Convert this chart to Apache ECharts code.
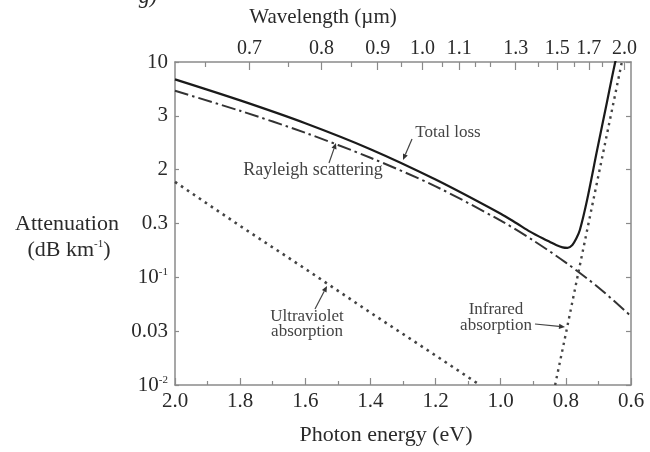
<!DOCTYPE html>
<html>
<head>
<meta charset="utf-8">
<script src="https://cdn.jsdelivr.net/npm/echarts@6/dist/echarts.min.js"></script>
<style>html,body{margin:0;padding:0;background:#fff;}#c{width:650px;height:452px;}</style>
</head>
<body>
<div id="c"></div>
<script>
// ---- data (photon energy in eV, attenuation in dB/km) ----
const totalLoss = [[2.0,6.9],[1.8,4.4],[1.6,2.7],[1.4,1.55],[1.2,0.81],[1.0,0.39],[0.95,0.316],[0.91,0.266],[0.87,0.229],[0.85,0.214],[0.83,0.2],[0.81,0.19],[0.795,0.188],[0.78,0.2],[0.768,0.229],[0.757,0.275],[0.735,0.52],[0.704,1.52],[0.674,4.2],[0.649,9.8],[0.64,12]];
const rayleigh = [[2.0,5.4],[1.8,3.52],[1.6,2.2],[1.4,1.29],[1.2,0.70],[1.0,0.336],[0.9,0.22],[0.8,0.137],[0.7,0.0805],[0.6,0.0436]];
const uvAbsorption = [[2.0,0.77],[1.8,0.30],[1.6,0.12],[1.4,0.047],[1.2,0.0188],[1.064,0.01]];
const irAbsorption = [[0.833,0.01],[0.8,0.030],[0.76,0.117],[0.72,0.45],[0.68,1.73],[0.628,10]];
const wavelengthLabels = [0.7,0.8,0.9,1.0,1.1,1.3,1.5,1.7,2.0];
const wavelengthMinor = [0.65,0.75,0.85,0.95,1.05,1.15,1.2,1.4,1.6,1.8,1.9];
const yTickLabels = ['10^-2','0.03','10^-1','0.3','2','3','10'];
const hcOverE = 1.24; // lambda(um) = 1.24 / E(eV)

const FONT = '"Liberation Serif", "DejaVu Serif", serif';
const TXT = '#2a2a2a';
const AX = '#8a8a8a';

const toLog = arr => arr.map(p => [p[0], Math.log10(p[1])]);

const chart = echarts.init(document.getElementById('c'), null, {renderer: 'canvas'});

function arrow(x1, y1, x2, y2) {
  const a = Math.atan2(y2 - y1, x2 - x1), L = 6, W = 2.6;
  const bx = x2 - L * Math.cos(a), by = y2 - L * Math.sin(a);
  return [
    {type: 'line', shape: {x1, y1, x2: bx, y2: by}, style: {stroke: '#444', lineWidth: 1.2}},
    {type: 'polygon', shape: {points: [[x2, y2], [bx - W * Math.sin(a), by + W * Math.cos(a)], [bx + W * Math.sin(a), by - W * Math.cos(a)]]}, style: {fill: '#333'}}
  ];
}
function txt(x, y, text, size, extra) {
  return {type: 'text', style: Object.assign({x, y, text, fill: TXT, font: size + 'px ' + FONT, textAlign: 'center', textVerticalAlign: 'middle'}, extra || {})};
}

const option = {
  backgroundColor: '#fff',
  animation: false,
  grid: {left: 175, right: 19, top: 62, bottom: 67, containLabel: false},
  xAxis: [
    {
      type: 'value', min: 0.6, max: 2.0, interval: 0.2, inverse: true, position: 'bottom',
      axisLine: {show: true, onZero: false, lineStyle: {color: AX, width: 1.5}},
      axisTick: {show: true, inside: true, length: 7, lineStyle: {color: AX, width: 1.2}},
      minorTick: {show: true, splitNumber: 2, length: 4, lineStyle: {color: AX, width: 1.2}},
      axisLabel: {margin: 6, color: TXT, fontFamily: FONT, fontSize: 21, formatter: v => v.toFixed(1)},
      splitLine: {show: false}
    },
    {
      type: 'value', min: 0.6, max: 2.0, inverse: true, position: 'top',
      axisLine: {show: true, onZero: false, lineStyle: {color: AX, width: 1.5}},
      axisTick: {show: true, inside: true, length: 8, customValues: wavelengthLabels.map(l => hcOverE / l), lineStyle: {color: AX, width: 1.2}},
      axisLabel: {show: true, margin: 3, color: TXT, fontFamily: FONT, fontSize: 20,
        customValues: wavelengthLabels.map(l => hcOverE / l),
        formatter: v => (hcOverE / v).toFixed(1)},
      splitLine: {show: false}
    },
    {
      type: 'value', min: 0.6, max: 2.0, inverse: true, position: 'top',
      axisLine: {show: false, onZero: false},
      axisTick: {show: true, inside: true, length: 5, customValues: wavelengthMinor.map(l => hcOverE / l), lineStyle: {color: AX, width: 1.2}},
      axisLabel: {show: false},
      splitLine: {show: false}
    }
  ],
  yAxis: [
    {
      type: 'value', min: -2, max: 1, interval: 0.5, position: 'left',
      axisLine: {show: true, onZero: false, lineStyle: {color: AX, width: 1.5}},
      axisTick: {show: true, inside: true, length: 4, lineStyle: {color: AX, width: 1.2}},
      axisLabel: {
        margin: 7, color: TXT, fontFamily: FONT, fontSize: 21,
        formatter: v => {
          const s = yTickLabels[Math.round((v + 2) * 2)];
          if (s.indexOf('^') >= 0) {
            const p = s.split('^');
            return '{b|' + p[0] + '}{s|' + p[1] + '}';
          }
          return '{b|' + s + '}';
        },
        rich: {
          b: {fontFamily: FONT, fontSize: 21, color: TXT},
          s: {fontFamily: FONT, fontSize: 11, color: TXT, verticalAlign: 'top'}
        }
      },
      splitLine: {show: false}
    },
    {
      type: 'value', min: -2, max: 1, interval: 0.5, position: 'right',
      axisLine: {show: true, onZero: false, lineStyle: {color: AX, width: 1.5}},
      axisTick: {show: true, inside: true, length: 5, lineStyle: {color: AX, width: 1.2}},
      axisLabel: {show: false},
      splitLine: {show: false}
    }
  ],
  series: [
    {name: 'Total loss', type: 'line', data: toLog(totalLoss), smooth: 0.3, symbol: 'none',
      lineStyle: {color: '#1a1a1a', width: 2.2}, clip: true, z: 5},
    {name: 'Rayleigh scattering', type: 'line', data: toLog(rayleigh), smooth: 0.3, symbol: 'none',
      lineStyle: {color: '#333', width: 2, type: [14, 4, 2.5, 4]}, clip: true},
    {name: 'Ultraviolet absorption', type: 'line', data: toLog(uvAbsorption), smooth: false, symbol: 'none',
      lineStyle: {color: '#444', width: 2.6, type: [2.6, 4.6]}, clip: true},
    {name: 'Infrared absorption', type: 'line', data: toLog(irAbsorption), smooth: false, symbol: 'none',
      lineStyle: {color: '#444', width: 2.4, type: [2.4, 4.4]}, clip: true}
  ],
  graphic: [].concat(
    [
      txt(323, 17, 'Wavelength (\u00b5m)', 21),
      txt(386, 435, 'Photon energy (eV)', 22),
      txt(67, 224, 'Attenuation', 22),
      {type: 'text', style: {x: 69, y: 250, text: '{b|(dB km}{s|-1}{b|)}', textAlign: 'center', textVerticalAlign: 'middle',
        rich: {b: {fontFamily: FONT, fontSize: 22, fill: TXT, color: TXT}, s: {fontFamily: FONT, fontSize: 11, fill: TXT, color: TXT, verticalAlign: 'top'}}}},
      txt(148, -3, 'g)', 22, {font: 'italic 22px ' + FONT}),
      txt(448, 133, 'Total loss', 17, {fill: '#444'}),
      txt(313, 170, 'Rayleigh scattering', 18, {fill: '#444'}),
      txt(307, 317, 'Ultraviolet', 17, {fill: '#444'}),
      txt(307, 332, 'absorption', 17, {fill: '#444'}),
      txt(496, 310, 'Infrared', 17, {fill: '#444'}),
      txt(496, 326, 'absorption', 17, {fill: '#444'})
    ],
    arrow(412, 139, 403, 160),
    arrow(329, 163, 336, 143),
    arrow(315, 309, 327, 286),
    arrow(535, 324, 565, 327)
  )
};
chart.setOption(option);
</script>
</body>
</html>
